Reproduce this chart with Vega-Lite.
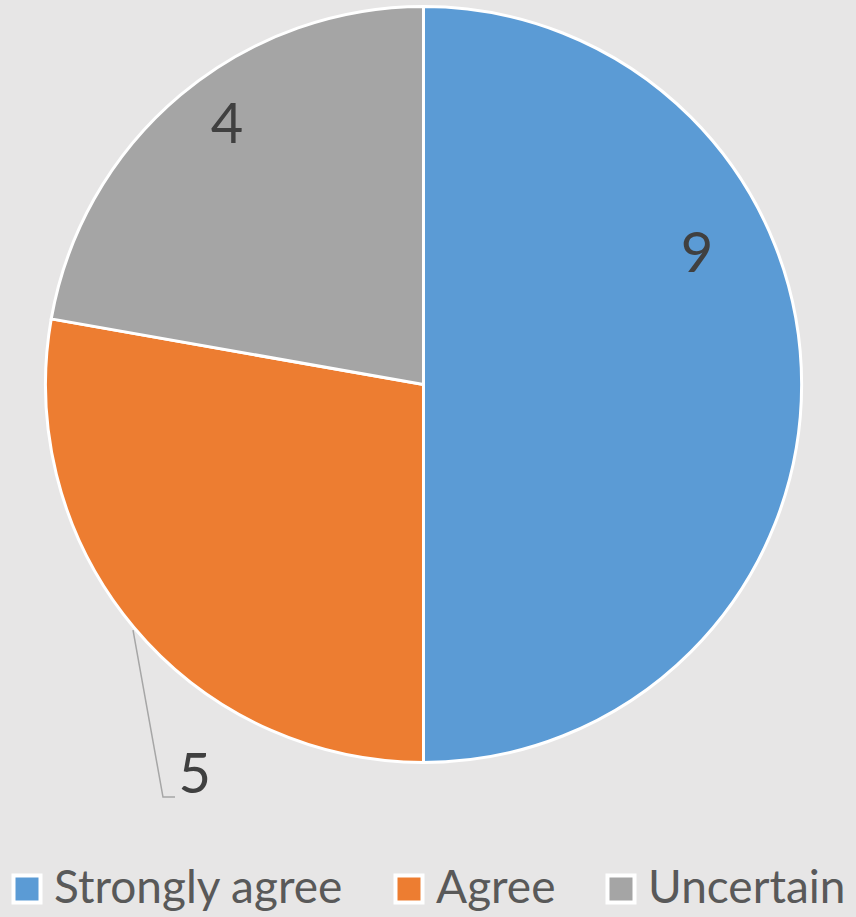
{
  "$schema": "https://vega.github.io/schema/vega-lite/v6.json",
  "width": 847,
  "height": 769,
  "autosize": {"type": "none"},
  "padding": {"left": 0, "top": 0, "right": 9, "bottom": 148},
  "background": "#e7e6e6",
  "config": {"view": {"stroke": null}},
  "data": {
    "values": [
      {"category": "Strongly agree", "value": 9, "order": 1, "labelAngle": 64.7, "labelRadius": 302.6},
      {"category": "Agree", "value": 5, "order": 2, "labelAngle": 210.3, "labelRadius": 453.3},
      {"category": "Uncertain", "value": 4, "order": 3, "labelAngle": 322.76, "labelRadius": 324.7}
    ]
  },
  "layer": [
    {
      "mark": {"type": "arc", "outerRadius": 378, "stroke": "white", "strokeWidth": 3},
      "encoding": {
        "theta": {"field": "value", "type": "quantitative", "stack": true},
        "order": {"field": "order", "type": "quantitative"},
        "color": {
          "field": "category",
          "type": "nominal",
          "scale": {"domain": ["Strongly agree", "Agree", "Uncertain"], "range": ["#5b9bd5", "#ed7d31", "#a5a5a5"]},
          "legend": {
            "title": null,
            "orient": "none",
            "direction": "horizontal",
            "legendX": 4,
            "legendY": 866,
            "padding": 0,
            "symbolType": "square",
            "symbolSize": 729,
            "symbolStrokeColor": "white",
            "symbolStrokeWidth": 4,
            "symbolOpacity": 1,
            "labelFont": "Lato",
            "labelFontSize": 46,
            "labelColor": "#595959",
            "labelOffset": 4,
            "columnPadding": 42,
            "labelLimit": 0
          }
        }
      }
    },
    {
      "mark": {"type": "text", "font": "Lato", "fontSize": 56, "color": "#404040", "baseline": "middle", "align": "center"},
      "encoding": {
        "theta": {"field": "labelAngle", "type": "quantitative", "stack": null, "scale": {"domain": [0, 360], "range": [0, 6.283185307]}},
        "radius": {"field": "labelRadius", "type": "quantitative", "scale": {"type": "linear", "domain": [0, 500], "range": [0, 500], "zero": true}},
        "text": {"field": "value", "type": "quantitative"}
      }
    },
    {
      "data": {
        "values": [
          {"i": 1, "px": -0.7685, "py": -0.6495},
          {"i": 2, "px": -0.6892, "py": -1.0913},
          {"i": 3, "px": -0.6574, "py": -1.0913}
        ]
      },
      "mark": {"type": "line", "color": "#a6a6a6", "strokeWidth": 1.5},
      "encoding": {
        "x": {"field": "px", "type": "quantitative", "scale": {"domain": [-1.1204, 1.1204]}, "axis": null},
        "y": {"field": "py", "type": "quantitative", "scale": {"domain": [-1.0172, 1.0172]}, "axis": null},
        "order": {"field": "i", "type": "quantitative"}
      }
    }
  ],
  "resolve": {"scale": {"theta": "independent", "radius": "independent"}}
}
